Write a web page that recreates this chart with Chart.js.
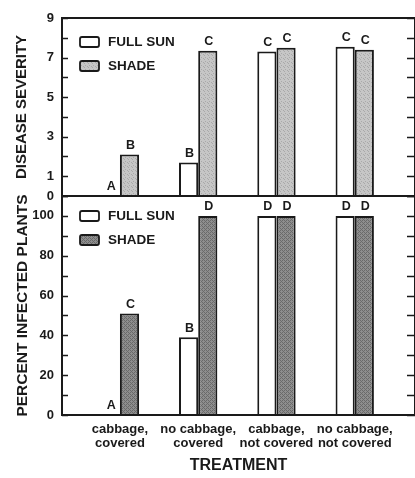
<!DOCTYPE html>
<html>
<head>
<meta charset="utf-8">
<script src="https://cdn.jsdelivr.net/npm/chart.js@4"></script>
<style>
  html, body { margin: 0; padding: 0; background: #fff; }
  #wrap { width: 415px; height: 478px; position: relative; }
</style>
</head>
<body>
<div id="wrap"><canvas id="chart" width="415" height="478"></canvas></div>
<script>
// --- data ---
const treatments = [
  ['cabbage,', 'covered'],
  ['no cabbage,', 'covered'],
  ['cabbage,', 'not covered'],
  ['no cabbage,', 'not covered']
];
const severitySun   = [0, 1.7, 7.3, 7.55];
const severityShade = [2.1, 7.35, 7.5, 7.4];
const percentSun    = [0, 39, 100, 100];
const percentShade  = [51, 100, 100, 100];

const severitySunLetters   = ['A', 'B', 'C', 'C'];
const severityShadeLetters = ['B', 'C', 'C', 'C'];
const percentSunLetters    = ['A', 'B', 'D', 'D'];
const percentShadeLetters  = ['C', 'D', 'D', 'D'];

const severityTicks = [0, 1, 3, 5, 7, 9];
const percentTicks  = [0, 20, 40, 60, 80, 100];
const legendNames = ['FULL SUN', 'SHADE'];

const FONT = "'Liberation Sans', Arial, sans-serif";
const INK = '#1a1a1a';

// textures for the shade bars
function makePattern(base, dot, dark) {
  const c = document.createElement('canvas');
  c.width = 4; c.height = 4;
  const g = c.getContext('2d');
  g.fillStyle = base; g.fillRect(0, 0, 4, 4);
  g.fillStyle = dot;
  if (dark) {
    for (let i = 0; i < 4; i++) g.fillRect(i, i, 1, 1);
    g.fillRect(0, 2, 1, 1); g.fillRect(2, 0, 1, 1);
  } else {
    g.fillRect(1, 1, 1, 1); g.fillRect(3, 2, 1, 1); g.fillRect(0, 3, 1, 1);
  }
  return g.createPattern(c, 'repeat');
}
const lightShade = makePattern('#c6c6c6', '#a9a9a9', false);
const darkShade  = makePattern('#8e8e8e', '#6a6a6a', true);

const pts = arr => arr.map((v, i) => ({ x: i + 1, y: v }));

// every minor tick, labels only where the figure has them
function stepTicks(max, step) {
  const out = [];
  for (let v = 0; v <= max; v += step) out.push({ value: v });
  return out;
}

function barSet(label, values, stack, yAxis, fill, letters) {
  return {
    label: label,
    data: pts(values),
    stack: stack,
    yAxisID: yAxis,
    backgroundColor: fill,
    borderColor: INK,
    borderWidth: 2,
    borderSkipped: 'bottom',
    categoryPercentage: 0.49,
    barPercentage: 1.0,
    letters: letters
  };
}

// frame, inward ticks, legends, letters
const decor = {
  id: 'decor',
  afterDatasetsDraw(chart) {
    const ctx = chart.ctx;
    const area = chart.chartArea;
    ctx.save();
    ctx.strokeStyle = INK;

    ['ySev', 'yPct'].forEach(id => {
      const s = chart.scales[id];
      ctx.lineWidth = 2;
      ctx.strokeRect(area.left, s.top, area.right - area.left, s.bottom - s.top);
      ctx.lineWidth = 1.6;
      s.ticks.forEach(t => {
        const y = Math.round(s.getPixelForValue(t.value)) + 0.5;
        ctx.beginPath();
        ctx.moveTo(area.left, y); ctx.lineTo(area.left + 6, y);
        ctx.moveTo(area.right, y); ctx.lineTo(area.right - 8, y);
        ctx.stroke();
      });
    });

    // legends in each panel
    const legendTops = [chart.scales.ySev.top + 19, chart.scales.yPct.top + 15];
    const fills = [['#ffffff', lightShade], ['#ffffff', darkShade]];
    legendTops.forEach((top, p) => {
      legendNames.forEach((name, k) => {
        const y = top + k * 24;
        ctx.fillStyle = fills[p][k];
        ctx.lineWidth = 1.8;
        ctx.beginPath();
        ctx.roundRect(80, y, 19, 10, 2);
        ctx.fill(); ctx.stroke();
        ctx.fillStyle = INK;
        ctx.font = 'bold 13.5px ' + FONT;
        ctx.textBaseline = 'middle';
        ctx.textAlign = 'left';
        ctx.fillText(name, 108, y + 5.5);
      });
    });

    // significance letters over the bars
    ctx.font = 'bold 12.5px ' + FONT;
    ctx.textAlign = 'center';
    ctx.textBaseline = 'bottom';
    ctx.fillStyle = INK;
    chart.data.datasets.forEach((ds, i) => {
      const meta = chart.getDatasetMeta(i);
      meta.data.forEach((bar, j) => {
        ctx.fillText(ds.letters[j], bar.x + 1, bar.y - 3);
      });
    });
    ctx.restore();
  }
};

new Chart(document.getElementById('chart'), {
  type: 'bar',
  data: {
    datasets: [
      barSet('FULL SUN', severitySun, 'sun', 'ySev', '#ffffff', severitySunLetters),
      barSet('SHADE', severityShade, 'shade', 'ySev', lightShade, severityShadeLetters),
      barSet('FULL SUN', percentSun, 'sun', 'yPct', '#ffffff', percentSunLetters),
      barSet('SHADE', percentShade, 'shade', 'yPct', darkShade, percentShadeLetters)
    ]
  },
  options: {
    responsive: false,
    animation: false,
    layout: { padding: { top: 18, right: 0, bottom: 0, left: 0 } },
    plugins: { legend: { display: false }, tooltip: { enabled: false } },
    scales: {
      x: {
        type: 'linear',
        offset: false,
        min: 0.26,
        max: 4.77,
        grid: { display: false, drawTicks: false },
        border: { display: false },
        afterBuildTicks: s => { s.ticks = treatments.map((t, i) => ({ value: i + 1 })); },
        afterFit: s => { s.height = 63; },
        ticks: {
          autoSkip: false,
          maxRotation: 0,
          padding: 7,
          color: INK,
          font: { family: FONT, size: 13, weight: 'bold', lineHeight: 1.1 },
          callback: v => treatments[v - 1]
        },
        title: {
          display: true,
          text: 'TREATMENT',
          color: INK,
          font: { family: FONT, size: 16, weight: 'bold' },
          padding: { top: 0, bottom: 3 }
        }
      },
      ySev: {
        type: 'linear',
        position: 'left',
        stack: 'panels',
        stackWeight: 178,
        weight: 2,
        stacked: false,
        min: 0, max: 9,
        grid: { display: false, drawTicks: false },
        border: { display: false },
        afterBuildTicks: s => { s.ticks = stepTicks(9, 1); },
        afterFit: s => { s.width = 62; },
        ticks: {
          autoSkip: false,
          padding: 8,
          color: INK,
          font: { family: FONT, size: 13, weight: 'bold' },
          callback: v => severityTicks.includes(v) ? String(v) : ''
        },
        title: {
          display: true,
          text: 'DISEASE SEVERITY',
          color: INK,
          font: { family: FONT, size: 15, weight: 'bold' },
          padding: { top: 13, bottom: 0 }
        }
      },
      yPct: {
        type: 'linear',
        position: 'left',
        stack: 'panels',
        stackWeight: 219,
        weight: 1,
        stacked: false,
        min: 0, max: 110,
        grid: { display: false, drawTicks: false },
        border: { display: false },
        afterBuildTicks: s => { s.ticks = stepTicks(110, 10); },
        afterFit: s => { s.width = 62; },
        ticks: {
          autoSkip: false,
          padding: 8,
          color: INK,
          font: { family: FONT, size: 13, weight: 'bold' },
          callback: v => percentTicks.includes(v) ? String(v) : ''
        },
        title: {
          display: true,
          text: 'PERCENT INFECTED PLANTS',
          color: INK,
          font: { family: FONT, size: 15.5, weight: 'bold' },
          padding: { top: 13, bottom: 0 }
        }
      }
    }
  },
  plugins: [decor]
});
</script>
</body>
</html>
